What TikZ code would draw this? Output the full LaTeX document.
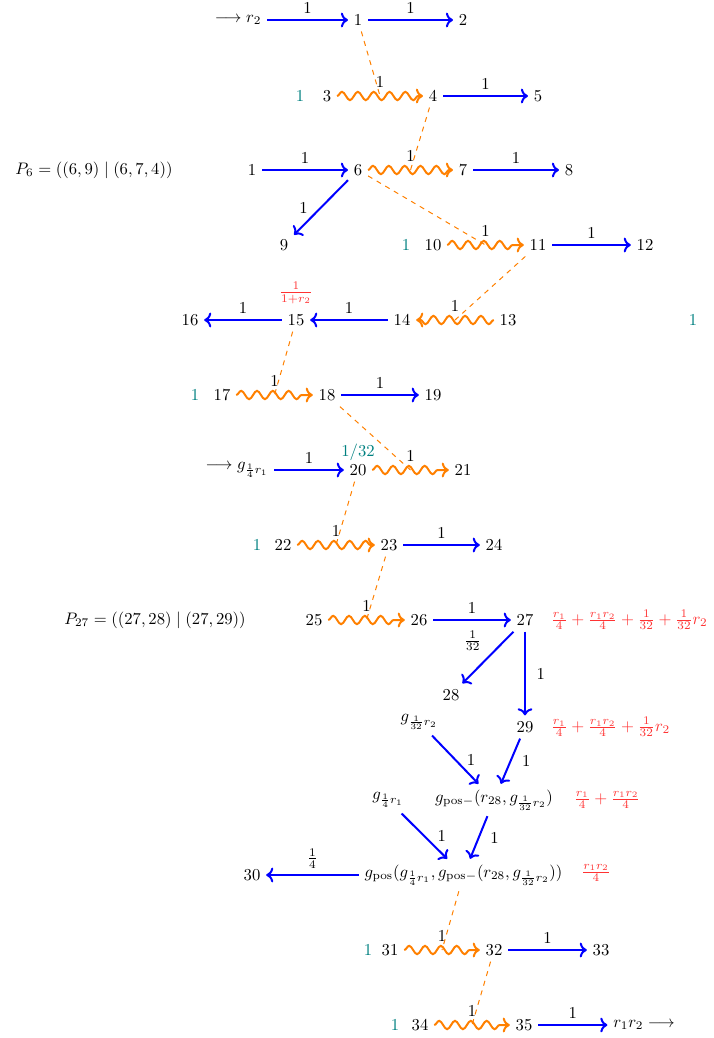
\documentclass[tikz,border=0pt]{standalone}
\usepackage{amsmath,amssymb}
\usepackage{xcolor}
\usepackage{tikz}
\usetikzlibrary{arrows.meta,positioning,calc,decorations.pathmorphing}
\definecolor{fl}{HTML}{0000FF}
\definecolor{wv}{HTML}{FF8000}
\definecolor{tl}{HTML}{008080}
\definecolor{rd}{HTML}{FF3333}
\newcommand{\Rd}[1]{\ensuremath{\textcolor{rd}{#1}}}
\newcommand{\Gq}[1]{g_{\frac{1}{#1}r_{\ifnum#1=4 1\else 2\fi}}}
\tikzset{
  flow/.style={->, draw=fl, very thick},
  wave/.style={->, draw=wv, very thick, decorate,
    decoration={snake, amplitude=2.5pt, segment length=9.5pt, post length=2pt}},
  link/.style={draw=wv, dashed, semithick},
  tln/.style={text=tl},
  wl/.style={above=1pt}
}

\begin{document}
\begin{tikzpicture}[x=0.6pt, y=-0.6pt]
  \useasboundingbox (0,0) rectangle (713,1038);

  \node (inr) at (238,20) {$\longrightarrow r_2$};
  \node (n1) at (358,20) {1};
  \node (n2) at (463,20) {2};
  \draw[flow] (inr) -- node[above] {1} (n1);
  \draw[flow] (n1) -- node[above] {1} (n2);

  \node[tln] (t3) at (300,96) {1};
  \node (n3) at (327,96) {3};
  \node (n4) at (433,96) {4};
  \node (n5) at (538,96) {5};
  \draw[wave] (n3) -- coordinate (w3) node[wl] {1} (n4);
  \draw[flow] (n4) -- node[above] {1} (n5);
  \draw[link] (n1) -- (w3);

  \node (P6) at (94,170) {$P_6 = ((6,9) \mid (6,7,4))$};
  \node (n1p) at (252,170) {1};
  \node (n6) at (358,170) {6};
  \node (n7) at (463,170) {7};
  \node (n8) at (569,170) {8};
  \node (n9) at (284,245) {9};
  \draw[flow] (n1p) -- node[above] {1} (n6);
  \draw[wave] (n6) -- coordinate (w6) node[wl] {1} (n7);
  \draw[flow] (n7) -- node[above] {1} (n8);
  \draw[flow] (n6) -- node[left=4pt] {1} (n9);
  \draw[link] (n4) -- (w6);

  \node[tln] (t10) at (406,245) {1};
  \node (n10) at (433,245) {10};
  \node (n11) at (538,245) {11};
  \node (n12) at (645,245) {12};
  \draw[wave] (n10) -- coordinate (w10) node[wl] {1} (n11);
  \draw[flow] (n11) -- node[above] {1} (n12);
  \draw[link] (n6) -- (w10);

  \node (n16) at (190,320) {16};
  \node (n15) at (296,320) {15};
  \node (n14) at (402,320) {14};
  \node (n13) at (508,320) {13};
  \node[tln] (t13) at (693,320) {1};
  \node (r15) at (296,293) {\Rd{\frac{1}{1+r_2}}};
  \draw[flow] (n15) -- node[above] {1} (n16);
  \draw[flow] (n14) -- node[above] {1} (n15);
  \draw[wave] (n13) -- coordinate (w13) node[wl] {1} (n14);
  \draw[link] (n11) -- (w13);

  \node[tln] (t17) at (195,395) {1};
  \node (n17) at (222,395) {17};
  \node (n18) at (327,395) {18};
  \node (n19) at (433,395) {19};
  \draw[wave] (n17) -- coordinate (w17) node[wl] {1} (n18);
  \draw[flow] (n18) -- node[above] {1} (n19);
  \draw[link] (n15) -- (w17);

  \node (ing) at (237,470) {$\longrightarrow \Gq{4}$};
  \node (n20) at (358,470) {20};
  \node (n21) at (463,470) {21};
  \node[tln] (t20) at (358,452) {1/32};
  \draw[flow] (ing) -- node[above] {1} (n20);
  \draw[wave] (n20) -- coordinate (w20) node[wl] {1} (n21);
  \draw[link] (n18) -- (w20);

  \node[tln] (t22) at (257,545) {1};
  \node (n22) at (283,545) {22};
  \node (n23) at (389,545) {23};
  \node (n24) at (494,545) {24};
  \draw[wave] (n22) -- coordinate (w22) node[wl] {1} (n23);
  \draw[flow] (n23) -- node[above] {1} (n24);
  \draw[link] (n20) -- (w22);

  \node (P27) at (155,620) {$P_{27} = ((27,28) \mid (27,29))$};
  \node (n25) at (314,620) {25};
  \node (n26) at (419,620) {26};
  \node (n27) at (525,620) {27};
  \node[anchor=west] (r27) at (545,620)
    {\Rd{\frac{r_1}{4} + \frac{r_1 r_2}{4} + \frac{1}{32} + \frac{1}{32} r_2}};
  \draw[wave] (n25) -- coordinate (w25) node[wl] {1} (n26);
  \draw[flow] (n26) -- node[above] {1} (n27);
  \draw[link] (n23) -- (w25);

  \node (n28) at (451,695) {28};
  \node (n29) at (525,727) {29};
  \node[anchor=west] (r29) at (545,727)
    {\Rd{\frac{r_1}{4} + \frac{r_1 r_2}{4} + \frac{1}{32} r_2}};
  \draw[flow] (n27) -- node[above left] {$\frac{1}{32}$} (n28);
  \draw[flow] (n27) -- node[right=3pt] {1} (n29);

  \node (g32) at (419,722) {$\Gq{32}$};
  \node (g4) at (388,800) {$\Gq{4}$};
  \node (gm) at (494,800) {$g_{\mathrm{pos}-}(r_{28}, \Gq{32})$};
  \node[anchor=west] (rgm) at (568,800) {\Rd{\frac{r_1}{4} + \frac{r_1 r_2}{4}}};
  \draw[flow] (g32) -- node[right=3pt] {1} (gm);
  \draw[flow] (n29) -- node[right=3pt] {1} (gm);

  \node (n30) at (252,875) {30};
  \node (gp) at (463.5,875) {$g_{\mathrm{pos}}(\Gq{4}, g_{\mathrm{pos}-}(r_{28}, \Gq{32}))$};
  \node (rgp) at (596,873) {\Rd{\frac{r_1 r_2}{4}}};
  \draw[flow] (gp) -- node[above] {$\frac{1}{4}$} (n30);
  \draw[flow] (g4) -- node[right=4pt] {1} (gp);
  \draw[flow] (gm) -- node[right=3pt] {1} (gp);

  \node[tln] (t31) at (368,950) {1};
  \node (n31) at (390,950) {31};
  \node (n32) at (494,950) {32};
  \node (n33) at (601,950) {33};
  \draw[wave] (n31) -- coordinate (w31) node[wl] {1} (n32);
  \draw[flow] (n32) -- node[above] {1} (n33);
  \draw[link] (gp) -- (w31);

  \node[tln] (t34) at (395,1025) {1};
  \node (n34) at (420,1025) {34};
  \node (n35) at (524,1025) {35};
  \node (outr) at (644,1025) {$r_1 r_2 \longrightarrow$};
  \draw[wave] (n34) -- coordinate (w34) node[wl] {1} (n35);
  \draw[flow] (n35) -- node[above] {1} (outr);
  \draw[link] (n32) -- (w34);
\end{tikzpicture}
\end{document}
